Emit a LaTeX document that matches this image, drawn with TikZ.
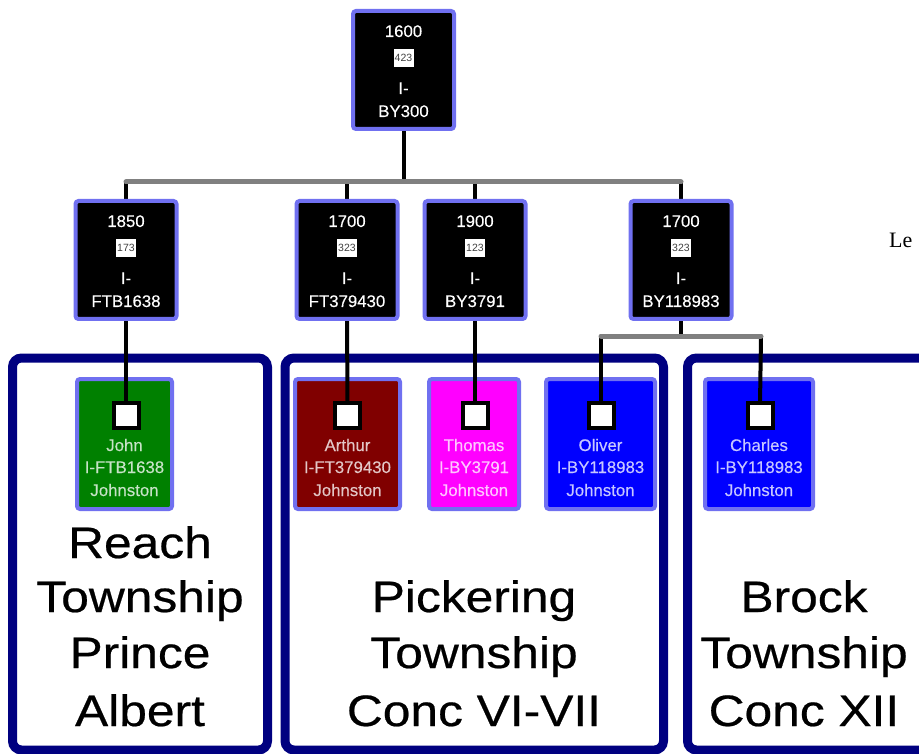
\documentclass[tikz,border=0pt]{standalone}
\usepackage{fontspec}
\setmainfont{Liberation Sans}
\newfontfamily\townfont[FakeStretch=1.13,FakeBold=0.5]{Liberation Sans}
\newfontfamily\boxfont[FakeBold=0.2]{Liberation Sans}
\newfontfamily\seriffont{Liberation Serif}
\usetikzlibrary{calc}

\definecolor{edgeblue}{RGB}{112,112,240}
\definecolor{townnavy}{RGB}{0,0,128}
\definecolor{bargray}{RGB}{128,128,128}
\definecolor{famgreen}{RGB}{0,128,0}
\definecolor{famred}{RGB}{128,0,0}
\definecolor{fampink}{RGB}{255,0,255}
\definecolor{famblue}{RGB}{0,0,255}

\tikzset{
  gen/.style={draw=edgeblue, line width=4pt, fill=black, rounded corners=3pt,
    minimum width=101pt, minimum height=118pt, inner sep=0pt, outer sep=0pt},
  gentext/.style={text=white, font=\boxfont\fontsize{16.8}{18}\selectfont, anchor=base, inner sep=0pt},
  numbox/.style={fill=white, minimum width=20pt, minimum height=18pt, inner sep=0pt,
    font=\fontsize{10.5}{10}\selectfont, text=black!75},
  person/.style={draw=edgeblue, line width=4pt, fill=#1, rounded corners=3pt,
    minimum height=130pt, inner sep=0pt, outer sep=0pt},
  ptext/.style={text=#1!22!white, font=\boxfont\fontsize{16.8}{18}\selectfont, anchor=base, inner sep=0pt},
  anchorsq/.style={draw=black, fill=white, line width=4pt, minimum size=25pt, inner sep=0pt},
  town/.style={draw=townnavy, line width=9pt, rounded corners=9pt},
  towntext/.style={font=\townfont\fontsize{44}{50}\selectfont, anchor=base, inner sep=0pt},
  link/.style={draw=black, line width=4pt},
  bar/.style={draw=bargray, line width=5pt, line cap=round},
}

% generation box: name, x, top, year, number, id
\newcommand\genbox[6]{%
  \node[gen] (#1) at (#2,#3+59) {};
  \node[gentext] (#1y) at (#2,#3+26) {#4};
  \node[numbox] (#1n) at (#2,#3+47) {#5};
  \node[gentext] (#1p) at (#2,#3+83) {I-};
  \node[gentext] (#1i) at (#2,#3+106) {#6};
}
% person box: name, x, width, colour, first name, id
\newcommand\personbox[6]{%
  \node[person=#4, minimum width=#3pt] (#1) at (#2,444) {};
  \node[ptext=#4] (#1f) at (#2,451) {#5};
  \node[ptext=#4] (#1i) at (#2,473) {#6};
  \node[ptext=#4] (#1s) at (#2,496) {Johnston};
}

\begin{document}
\begin{tikzpicture}[x=1pt,y=-1pt]
\clip (0,0) rectangle (919,754);
\fill[white] (0,0) rectangle (919,754);

% township frames
\draw[town] (12.5,358) rectangle (267.5,750);
\draw[town] (285,358) rectangle (663.5,750);
\draw[town] (687.5,358) rectangle (945,750);

% township names
\node[towntext] (r1) at (140,558) {Reach};
\node[towntext] (r2) at (140,612) {Township};
\node[towntext] (r3) at (140,668) {Prince};
\node[towntext] (r4) at (140,726) {Albert};
\node[towntext] (p1) at (474,612) {Pickering};
\node[towntext] (p2) at (474,668) {Township};
\node[towntext] (p3) at (474,726) {Conc VI-VII};
\node[towntext] (b1) at (804,612) {Brock};
\node[towntext] (b2) at (804,668) {Township};
\node[towntext] (b3) at (804,726) {Conc XII};

% people
\personbox{john}{124.5}{95}{famgreen}{John}{I-FTB1638}
\personbox{arthur}{347.5}{105}{famred}{Arthur}{I-FT379430}
\personbox{thomas}{474}{90}{fampink}{Thomas}{I-BY3791}
\personbox{oliver}{600.5}{109}{famblue}{Oliver}{I-BY118983}
\personbox{charles}{759}{108}{famblue}{Charles}{I-BY118983}

% anchor squares of the people
\node[anchorsq] (sqA) at (126,415.5) {};
\node[anchorsq] (sqB) at (347.5,415.5) {};
\node[anchorsq] (sqC) at (475,415.5) {};
\node[anchorsq] (sqD1) at (601,415.5) {};
\node[anchorsq] (sqD2) at (760,415.5) {};

% junction points
\coordinate (j0) at (403.5,182);
\coordinate (jA) at (126,182);
\coordinate (jB) at (347,182);
\coordinate (jC) at (475,182);
\coordinate (jD) at (681,182);
\coordinate (k0) at (681,336);
\coordinate (k1) at (601,336);
\coordinate (k2) at (761,336);

% connectors
\draw[link] (403.5,130) -- (j0);
\draw[link] (jA) -- (126,205);
\draw[link] (jB) -- (347,205);
\draw[link] (jC) -- (475,205);
\draw[link] (jD) -- (681,205);
\draw[link] (126,315) -- (sqA);
\draw[link] (347,315) -- (347.5,405);
\draw[link] (475,315) -- (sqC);
\draw[link] (681,315) -- (k0);
\draw[link] (k1) -- (601,405);
\draw[link] (k2) -- (760,405);
\draw[bar] (jA) -- (jD);
\draw[bar] (k1) -- (k2);

% squares drawn again over the connector ends
\node[anchorsq] at (sqA) {};
\node[anchorsq] at (sqB) {};
\node[anchorsq] at (sqC) {};
\node[anchorsq] at (sqD1) {};
\node[anchorsq] at (sqD2) {};

% generations
\genbox{g0}{403.5}{11}{1600}{423}{BY300}
\genbox{gA}{126}{201}{1850}{173}{FTB1638}
\genbox{gB}{347}{201}{1700}{323}{FT379430}
\genbox{gC}{475}{201}{1900}{123}{BY3791}
\genbox{gD}{681}{201}{1700}{323}{BY118983}

\node[anchor=base west, inner sep=0pt, font=\seriffont\fontsize{22}{24}\selectfont] (lbl) at (889,248) {Le};
\end{tikzpicture}
\end{document}
